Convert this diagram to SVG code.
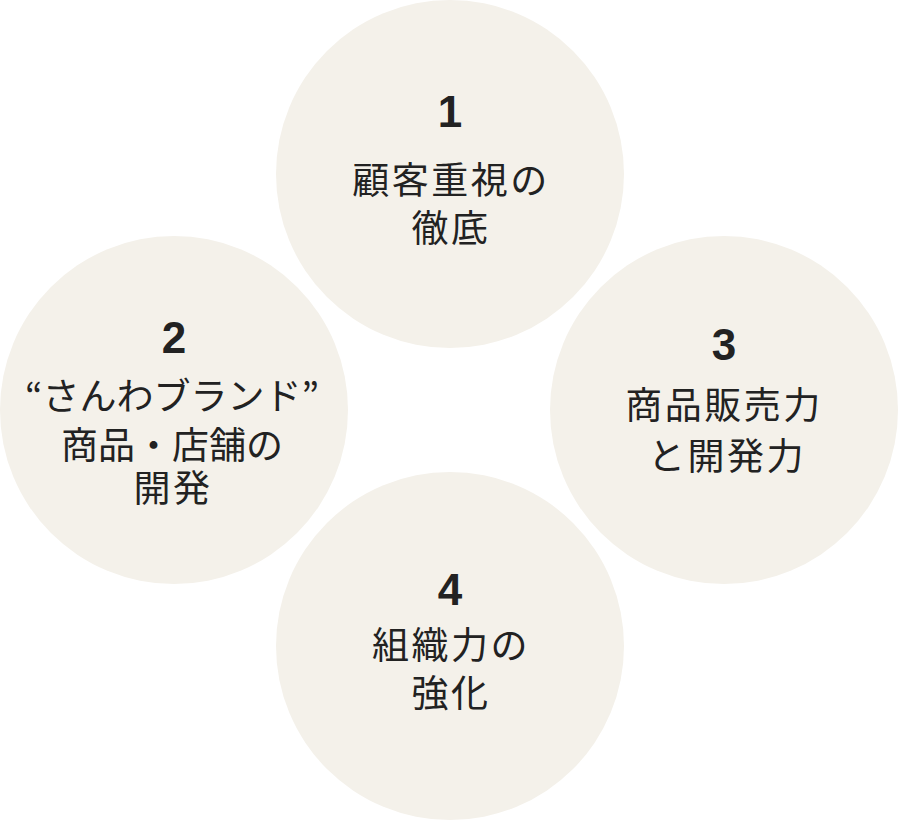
<svg xmlns="http://www.w3.org/2000/svg" width="898" height="820" viewBox="0 0 898 820">
<style>
.c{fill:#f4f1ea}
.n{font-family:"Liberation Sans",Arial,sans-serif;font-weight:bold;font-size:44px;fill:#222;text-anchor:middle}
.t{font-family:"Noto Sans CJK JP",sans-serif;font-size:37px;fill:#222;text-anchor:middle;letter-spacing:2.5px}
.t0{letter-spacing:0}
</style>
<rect width="898" height="820" fill="#fff"/>
<g id="node1">
<circle class="c" cx="450" cy="174" r="174"/>
<text class="n" x="450" y="127">1</text>
<text class="t" x="451" y="194">顧客重視の</text>
<text class="t" x="451" y="242">徹底</text>
</g>
<g id="node2">
<circle class="c" cx="174" cy="410" r="174"/>
<text class="n" x="174" y="353">2</text>
<text class="t t0" x="172" y="410">“さんわブランド”</text>
<text class="t t0" x="172" y="459">商品・店舗の</text>
<text class="t" x="173" y="502">開発</text>
</g>
<g id="node3">
<circle class="c" cx="724" cy="410" r="174"/>
<text class="n" x="724" y="360">3</text>
<text class="t" x="724" y="419">商品販売力</text>
<text class="t" x="727" y="470">と開発力</text>
</g>
<g id="node4">
<circle class="c" cx="450" cy="646" r="174"/>
<text class="n" x="450" y="605">4</text>
<text class="t" x="451" y="659">組織力の</text>
<text class="t" x="451" y="707">強化</text>
</g>
<g id="connectors"></g>
</svg>
